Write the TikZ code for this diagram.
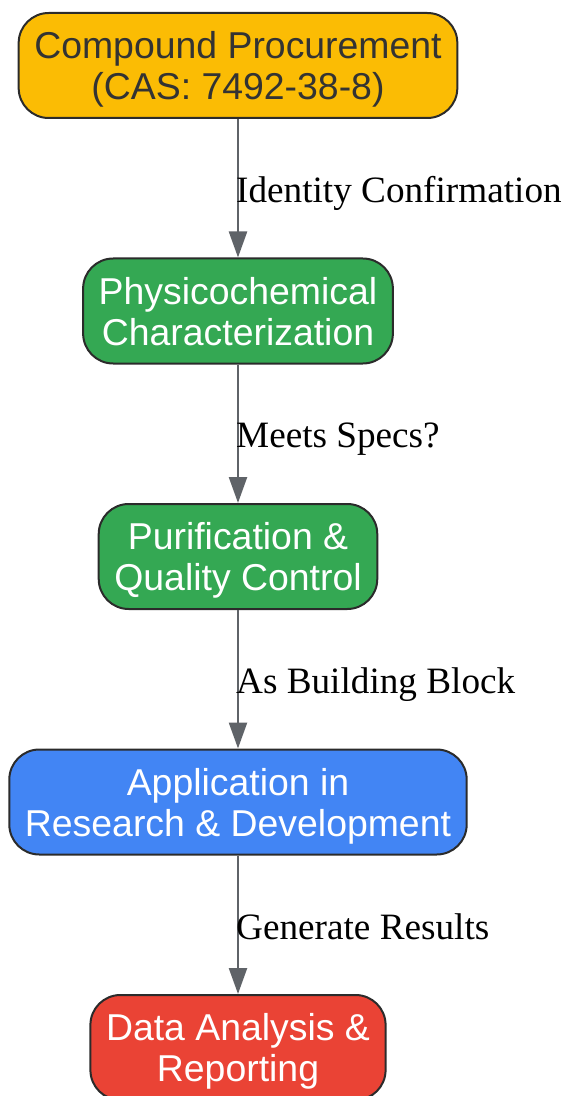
\documentclass[tikz,border=0pt]{standalone}
\usepackage{fontspec}
\setmainfont{Liberation Serif}
\setsansfont{Liberation Sans}
\usetikzlibrary{arrows.meta}
\definecolor{procure}{HTML}{FBBC04}
\definecolor{chemgreen}{HTML}{34A853}
\definecolor{appblue}{HTML}{4285F4}
\definecolor{reportred}{HTML}{EA4335}
\definecolor{boxline}{HTML}{2B2B2B}
\definecolor{darktext}{HTML}{333333}
\definecolor{edgegray}{HTML}{5F6368}

\begin{document}
\begin{tikzpicture}[x=0.5pt,y=-0.5pt]
    \useasboundingbox (0,0) rectangle (564,1096);
    \begin{scope}[every node/.style={rectangle,rounded corners=15pt,draw=boxline,line width=1pt,
        align=center,inner xsep=7.8pt,minimum height=52.5pt,text depth=-2pt,text=white,
        font=\sffamily\fontsize{18.7pt}{20.5pt}\selectfont}]
      \node[fill=procure,text=darktext] (procure) at (238,65.5) {Compound Procurement\\(CAS: 7492-38-8)};
      \node[fill=chemgreen] (charact) at (238,311) {Physicochemical\\Characterization};
      \node[fill=chemgreen] (purify) at (238,556.5) {Purification \&\\Quality Control};
      \node[fill=appblue] (apply) at (238,802) {Application in\\Research \& Development};
      \node[fill=reportred] (report) at (238,1047.5) {Data Analysis \&\\Reporting};
    \end{scope}

    \begin{scope}[>={Triangle[length=13pt,width=9pt]},
        every node/.style={anchor=west,inner sep=0pt,xshift=-1.5pt,yshift=-0.75pt,text depth=0pt,
          font=\fontsize{18.6pt}{20pt}\selectfont},
        every edge/.style={draw=edgegray,line width=1.2pt}]
      \path [->] (procure) edge node {Identity Confirmation} (charact);
      \path [->] (charact) edge node {Meets Specs?} (purify);
      \path [->] (purify) edge node {As Building Block} (apply);
      \path [->] (apply) edge node {Generate Results} (report);
    \end{scope}
\end{tikzpicture}
\end{document}
